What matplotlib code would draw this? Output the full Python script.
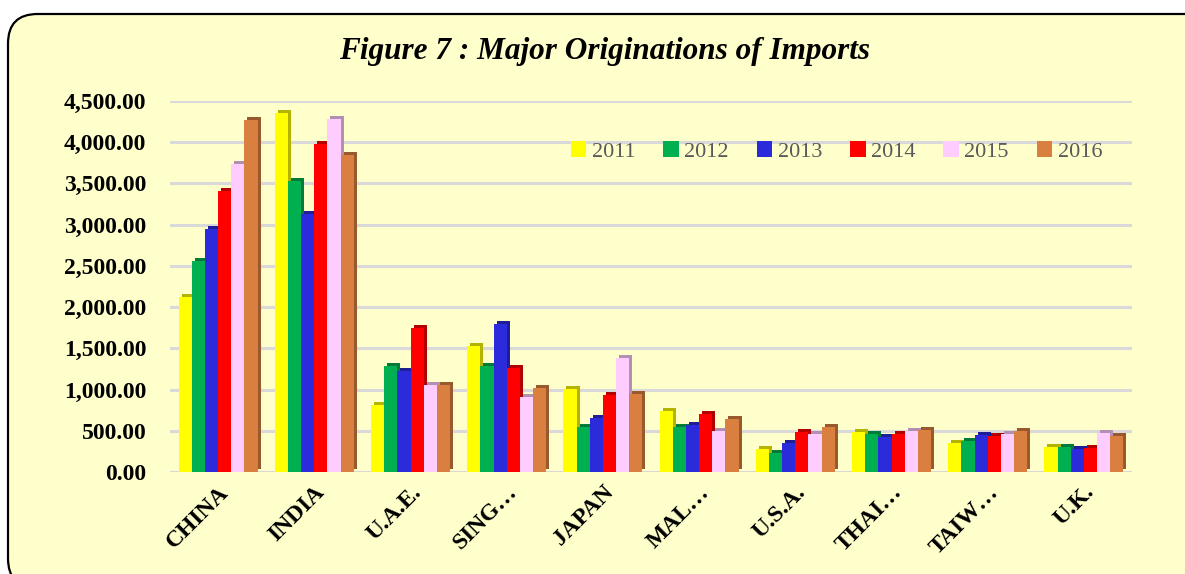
import numpy as np
import matplotlib
matplotlib.use("Agg")
import matplotlib.pyplot as plt
from matplotlib.patches import FancyBboxPatch
from matplotlib.transforms import ScaledTranslation
from matplotlib.colors import to_rgb

# --- data ---
countries = ["CHINA", "INDIA", "U.A.E.", "SING…", "JAPAN", "MAL…",
             "U.S.A.", "THAI…", "TAIW…", "U.K."]
years = ["2011", "2012", "2013", "2014", "2015", "2016"]

v2011 = [2120, 4350, 810, 1530, 1010, 745, 280, 480, 350, 300]
v2012 = [2560, 3530, 1280, 1290, 550, 550, 230, 460, 380, 300]
v2013 = [2950, 3130, 1220, 1790, 660, 570, 350, 430, 450, 280]
v2014 = [3410, 3980, 1750, 1260, 940, 705, 490, 460, 440, 290]
v2015 = [3730, 4280, 1060, 910, 1380, 500, 460, 495, 455, 475]
v2016 = [4270, 3840, 1060, 1020, 945, 640, 540, 510, 495, 440]
series = [v2011, v2012, v2013, v2014, v2015, v2016]

colors = ["#FFFF00", "#00B050", "#2B2BDB", "#FF0000", "#FFCCFF", "#D98040"]
bg = "#FFFFCC"
serif = ["Liberation Serif", "DejaVu Serif"]

fig = plt.figure(figsize=(11.85, 5.74), dpi=100)
fig.patch.set_facecolor("white")

# rounded border box
box = FancyBboxPatch((8 / 1185, 1 - 14 / 574 - 1.0), 1.2, 1.0,
                     boxstyle="round,pad=0,rounding_size=0.025",
                     transform=fig.transFigure, facecolor=bg,
                     edgecolor="black", linewidth=1.6, zorder=-10,
                     mutation_aspect=1185 / 574)
fig.patches.append(box)

ax = fig.add_axes([170 / 1185, 1 - 472 / 574, (1132 - 170) / 1185, (472 - 101) / 574])
ax.set_facecolor("none")

x = np.arange(len(countries))
n = len(series)
group = 0.82
w = group / n
depth = ScaledTranslation(3 / 100, 3 / 100, fig.dpi_scale_trans)

for i, (vals, c) in enumerate(zip(series, colors)):
    pos = x - group / 2 + w * (i + 0.5)
    dark = tuple(np.array(to_rgb(c)) * 0.7)
    # back/side face for the 3D look
    ax.bar(pos, vals, w, color=dark, transform=ax.transData + depth,
           zorder=2 + i * 2, clip_on=False)
    ax.bar(pos, vals, w, color=c, zorder=3 + i * 2, label=years[i], clip_on=False)

ax.set_xlim(-0.5, len(countries) - 0.5)
ax.set_ylim(0, 4500)
yt = np.arange(0, 4501, 500)
ax.set_yticks(yt)
ax.set_yticklabels([f"{v:,.2f}" for v in yt], fontsize=17, fontweight="bold",
                   family=serif)
ax.yaxis.grid(True, color="#D9D9D9", linewidth=2.2, zorder=0)
ax.set_axisbelow(True)
ax.set_xticks(x)
ax.set_xticklabels(countries, rotation=45, ha="right", rotation_mode="anchor",
                   fontsize=17, fontweight="bold", family=serif)
ax.tick_params(axis="y", length=0, pad=17)
ax.tick_params(axis="x", length=0, pad=7)
for s in ax.spines.values():
    s.set_visible(False)

leg = ax.legend(loc="upper right", bbox_to_anchor=(0.99, 0.945), ncol=6,
                frameon=False, prop={"family": serif, "size": 16},
                handlelength=0.7, handleheight=0.7, handletextpad=0.25,
                columnspacing=1.25, labelcolor="#595959")

fig.text(605 / 1185, 1 - 52 / 574, "Figure 7 : Major Originations of Imports",
         ha="center", va="center", fontsize=22.5, fontweight="bold",
         fontstyle="italic", family=serif)

fig.savefig("out.png", dpi=100, facecolor=fig.get_facecolor())
